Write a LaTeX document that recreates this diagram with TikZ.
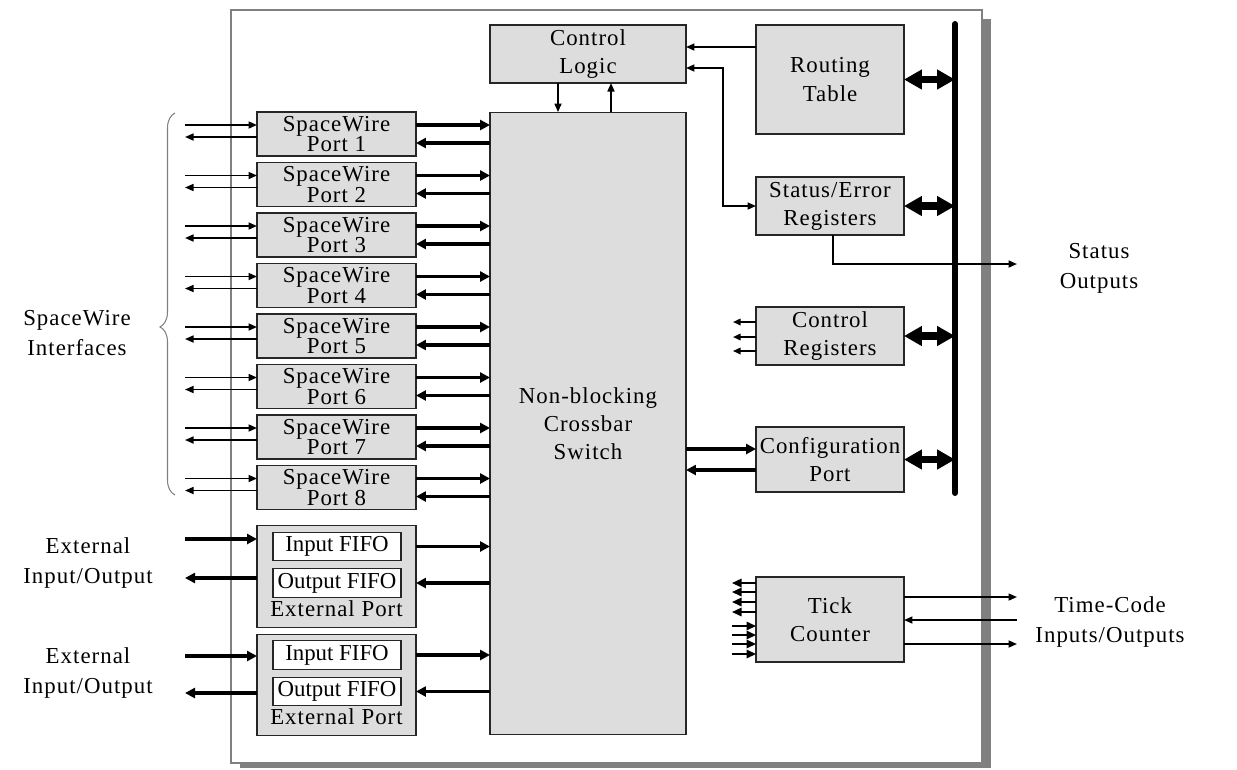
\documentclass[tikz,border=0pt]{standalone}
\usepackage{fontspec}
\setmainfont{Liberation Serif}[LetterSpace=4.5]
\newfontfamily\fifofont{Liberation Serif}
\usetikzlibrary{arrows.meta, positioning, calc, decorations.pathreplacing}
\definecolor{rtFill}{HTML}{DDDDDD}
\definecolor{rtFrame}{HTML}{808080}
\newcommand\rtfont{\fontsize{13}{16}\selectfont}
\newcommand\portfont{\fontsize{13}{11.5}\selectfont}
\newcommand\lblfont{\fontsize{13}{17}\selectfont}
\tikzset{
  rtnode/.style={
    draw=black!85, fill=rtFill, line width=0.6pt, inner sep=0pt, outer sep=0pt,
    align=center, font=\rtfont
  },
  port/.style={rtnode, minimum width=3.18cm, minimum height=0.88cm, font=\portfont},
  regbox/.style={rtnode, minimum width=2.96cm, minimum height=1.16cm},
  extport/.style={rtnode, minimum width=3.18cm, minimum height=2.03cm},
  fifo/.style={draw=black!85, fill=white, line width=0.6pt, inner sep=0pt,
    minimum width=2.56cm, minimum height=0.57cm, font=\fifofont\fontsize{13}{15}\selectfont},
  lbl/.style={align=center, inner sep=0pt, font=\lblfont},
  wire/.style={line width=0.9pt, -{Triangle[length=0.17cm, width=0.14cm]}},
  wiretwo/.style={line width=0.9pt, {Triangle[length=0.17cm, width=0.14cm]}-{Triangle[length=0.17cm, width=0.14cm]}},
  fatwire/.style={line width=1.8pt, -{Triangle[length=0.2cm, width=0.2cm]}},
  stub/.style={line width=0.9pt, -{Triangle[length=0.15cm, width=0.13cm]}},
  tickstub/.style={line width=0.9pt, -{Triangle[length=0.19cm, width=0.17cm]}},
  buslink/.style={line width=4pt,
    {Triangle[length=0.36cm, width=0.38cm]}-{Triangle[length=0.36cm, width=0.38cm]}},
  busline/.style={line width=3.4pt, line cap=round},
  brace/.style={decorate, decoration={brace, amplitude=0.3cm, aspect=0.44},
    draw=gray, line width=0.6pt}
}
\begin{document}
\begin{tikzpicture}[x=0.02cm, y=-0.02cm]
  \useasboundingbox (0,0) rectangle (1237,769);
  % chip outline
  \fill[rtFrame] (240,19) rectangle (991,768);
  \draw[rtFrame, fill=white, line width=0.8pt] (231,10) rectangle (982,763);

  % core blocks
  \node[rtnode, minimum width=3.92cm, minimum height=12.46cm] (xb) at (588,423.5) {Non-blocking\\Crossbar\\Switch};
  \node[rtnode, minimum width=3.92cm, minimum height=1.16cm] (cl) at (588,54) {Control\\Logic};
  \node[rtnode, minimum width=2.96cm, minimum height=2.18cm] (rt) at (830,79.5) {Routing\\Table};
  \node[regbox] (se) at (830,206) {Status/Error\\Registers};
  \node[regbox] (cr) at (830,336) {Control\\Registers};
  \node[rtnode, minimum width=2.96cm, minimum height=1.3cm] (cp) at (830,459.5) {Configuration\\Port};
  \node[rtnode, minimum width=2.96cm, minimum height=1.7cm] (tc) at (830,619.5) {Tick\\Counter};

  % spacewire ports
  \foreach \i in {1,...,8}{
    \node[port] (p\i) at (336.5,{134+50.5*(\i-1)}) {SpaceWire\\Port \i};
    \draw[wire] ([shift={(-1.44cm,0.18cm)}]p\i.west) -- ([yshift=0.18cm]p\i.west);
    \draw[wire] ([yshift=-0.06cm]p\i.west) -- ++(-72,0);
    \draw[fatwire] ([yshift=0.18cm]p\i.east) -- ([yshift=0.18cm]p\i.east -| xb.west);
    \draw[fatwire] ([yshift=-0.18cm]p\i.east -| xb.west) -- ([yshift=-0.18cm]p\i.east);
  }

  % external ports
  \foreach \j/\y/\a/\b in {1/576.5/37.5/1.5, 2/685/29/8}{
    \node[extport] (e\j) at (336.5,\y) {};
    \node[fifo] (fi\j) at (337,\y-30) {Input FIFO};
    \node[fifo] (fo\j) at (337,\y+6.5) {Output FIFO};
    \node[lbl] (ep\j) at (336.5,\y+32) {External Port};
    \draw[fatwire] ([shift={(-1.44cm,\a*0.02cm)}]e\j.west) -- ([yshift=\a*0.02cm]e\j.west);
    \draw[fatwire] ([yshift=-\b*0.02cm]e\j.west) -- ++(-72,0);
    \draw[fatwire] (fi\j.east -| e\j.east) -- (fi\j.east -| xb.west);
    \draw[fatwire] (fo\j.east -| xb.west) -- (fo\j.east -| e\j.east);
  }

  % control logic links
  \draw[wire] ([xshift=-0.6cm]cl.south) -- ([xshift=-0.6cm]xb.north);
  \draw[wire] ([xshift=0.46cm]xb.north) -- ([xshift=0.46cm]cl.south);
  \draw[wire] ([yshift=-0.44cm]rt.north west) -- ([yshift=-0.44cm]rt.north west -| cl.east);
  \draw[wiretwo] (se.west) -- ++(-33,0) |- ([yshift=-0.86cm]rt.north west -| cl.east);

  % configuration port
  \draw[fatwire] ([yshift=0.21cm]cp.west -| xb.east) -- ([yshift=0.21cm]cp.west);
  \draw[fatwire] ([yshift=-0.21cm]cp.west) -- ([yshift=-0.21cm]cp.west -| xb.east);

  % register bus
  \coordinate (bustop) at (955,24);
  \coordinate (busbot) at (955,493);
  \foreach \n in {rt,se,cr,cp}
    \draw[buslink] (\n.east) -- (\n.east -| bustop);
  \draw[busline] (bustop) -- (busbot);

  % status outputs
  \node[lbl] (sout) at (1099,268) {Status\\Outputs};
  \coordinate (soend) at (1017,264);
  \draw[wire] ([xshift=0.06cm]se.south) |- (soend);

  % control register outputs
  \foreach \d in {0.28,-0.02,-0.3}
    \draw[stub] ([yshift=\d cm]cr.west) -- ++(-23,0);

  % tick counter
  \foreach \d in {0.73,0.55,0.35,0.15}
    \draw[tickstub] ([yshift=\d cm]tc.west) -- ++(-24,0);
  \foreach \d in {0.13,0.31,0.49,0.69}
    \draw[tickstub] ([shift={(-0.48cm,-\d cm)}]tc.west) -- ([yshift=-\d cm]tc.west);
  \node[lbl] (tcio) at (1110,622) {Time-Code\\Inputs/Outputs};
  \coordinate (tcx) at (1017,620);
  \draw[wire] ([yshift=0.45cm]tc.east) -- ([yshift=0.45cm]tc.east -| tcx);
  \draw[wire] (tcx) -- (tcx -| tc.east);
  \draw[wire] ([yshift=-0.49cm]tc.east) -- ([yshift=-0.49cm]tc.east -| tcx);

  % left labels
  \node[lbl] (swif) at (77,333) {SpaceWire\\Interfaces};
  \draw[brace] (175,495) -- (175,113);
  \node[lbl] (ext1io) at (88,563) {External\\Input/Output};
  \node[lbl] (ext2io) at (88,673) {External\\Input/Output};
\end{tikzpicture}
\end{document}
